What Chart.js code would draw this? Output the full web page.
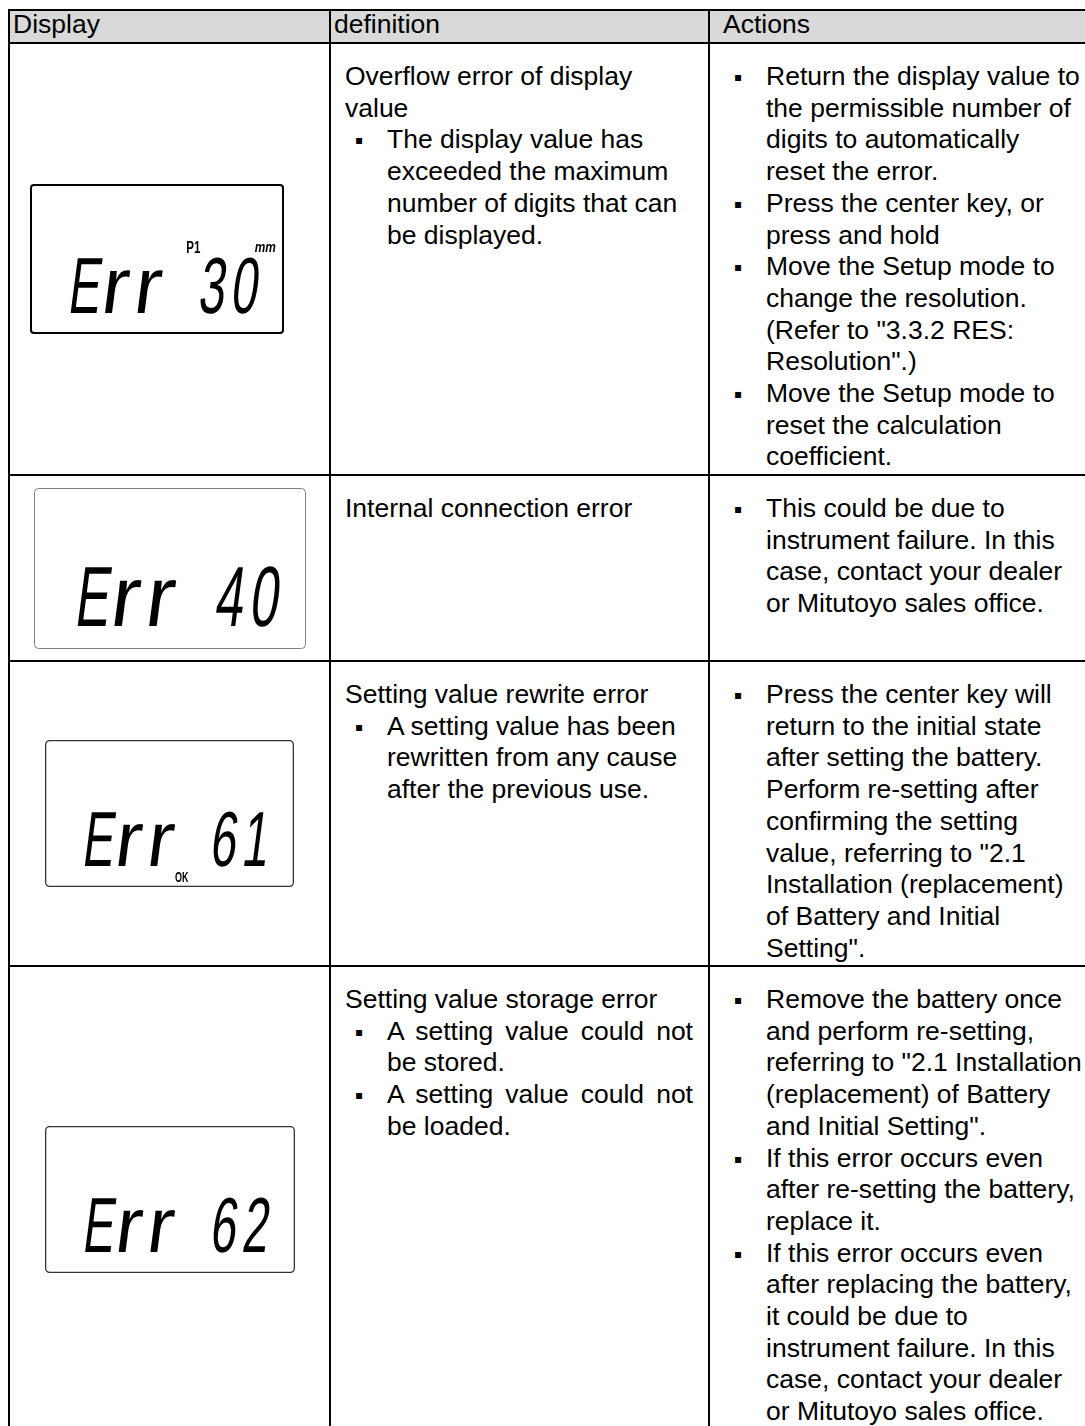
<!DOCTYPE html>
<html>
<head>
<meta charset="utf-8">
<script src="https://cdn.jsdelivr.net/npm/chart.js@4.4.1/dist/chart.umd.min.js"></script>
<style>
  html, body { margin: 0; padding: 0; background: #fff; width: 1085px; height: 1426px; overflow: hidden; }
  table {
    position: absolute; left: 8px; top: 9px;
    border-collapse: separate; border-spacing: 0; table-layout: fixed; width: 1102px;
    border-left: 2px solid #000; border-top: 2px solid #000;
    font-family: "Liberation Sans", Arial, sans-serif; font-size: 26.5px; color: #000;
  }
  th, td { box-sizing: border-box; border-right: 2px solid #000; border-bottom: 2px solid #000; padding: 0; }
  th { height: 33px; background: #d9d9d9; font-weight: normal; text-align: left; line-height: 26px; vertical-align: top; }
  td { vertical-align: top; line-height: 31.7px; padding: 17px 0 0 14px; }
  td.def { padding-right: 15px; }
  td.disp { vertical-align: middle; padding: 0; }
  td.disp canvas { display: block; margin: 0 auto; }
  .item { position: relative; padding-left: 42px; }
  .dot { position: absolute; left: 10px; top: 1px; font-family: "DejaVu Sans", sans-serif; font-size: 12px; }
  .just .item div:not(:last-child) { text-align: justify; text-align-last: justify; }
</style>
</head>
<body>
<table id="tbl">
  <thead><tr id="head"></tr></thead>
  <tbody id="rows"></tbody>
</table>
<script>
// error display table: texts and LCD readouts

// DATA
// ============================================================
const headers = ['Display', 'definition', 'Actions'];
const displayCodes = ['Err 30', 'Err 40', 'Err 61', 'Err 62'];
const displayTags = [['P1', 'mm'], [], ['OK'], []];

const definitions = [
  ['Overflow error of display\nvalue',
   '▪The display value has\nexceeded the maximum\nnumber of digits that can\nbe displayed.'],
  ['Internal connection error'],
  ['Setting value rewrite error',
   '▪A setting value has been\nrewritten from any cause\nafter the previous use.'],
  ['Setting value storage error',
   '▪A setting value could not\nbe stored.',
   '▪A setting value could not\nbe loaded.'],
];

const actions = [
  ['▪Return the display value to\nthe permissible number of\ndigits to automatically\nreset the error.',
   '▪Press the center key, or\npress and hold',
   '▪Move the Setup mode to\nchange the resolution.\n(Refer to "3.3.2 RES:\nResolution".)',
   '▪Move the Setup mode to\nreset the calculation\ncoefficient.'],
  ['▪This could be due to\ninstrument failure. In this\ncase, contact your dealer\nor Mitutoyo sales office.'],
  ['▪Press the center key will\nreturn to the initial state\nafter setting the battery.\nPerform re-setting after\nconfirming the setting\nvalue, referring to "2.1\nInstallation (replacement)\nof Battery and Initial\nSetting".'],
  ['▪Remove the battery once\nand perform re-setting,\nreferring to "2.1 Installation\n(replacement) of Battery\nand Initial Setting".',
   '▪If this error occurs even\nafter re-setting the battery,\nreplace it.',
   '▪If this error occurs even\nafter replacing the battery,\nit could be due to\ninstrument failure. In this\ncase, contact your dealer\nor Mitutoyo sales office.'],
];

// LAYOUT / STYLE
// ============================================================
const headPad = [3, 3, 13];
const colWidths = [321, 379, 402];
const rowHeights = [432, 186, 305, 467];
const justifyDefRows = [3];
const lcdStyle = [
  { w: 254, h: 150, border: 2,   frame: '#000',    radius: 3, shift: -23 },
  { w: 272, h: 161, border: 1,   frame: '#7f7f7f', radius: 4, shift: 0 },
  { w: 249, h: 147, border: 1.3, frame: '#333',    radius: 4, shift: 0 },
  { w: 250, h: 147, border: 1.3, frame: '#333',    radius: 4, shift: 0 },
];
// horizontal squeeze per glyph, so the LCD letters keep an even width
const glyphScale = { E: 0.6, r: 1.0, default: 0.6 };
const tagStyle = {
  P1: { x: 0.615, y: 0.458, font: 'bold 16px "Liberation Sans", Arial', sx: 0.72 },
  mm: { x: 0.885, y: 0.455, font: 'italic bold 14px "Liberation Sans", Arial', sx: 0.85 },
  OK: { x: 0.522, y: 0.965, font: 'bold 15px "Liberation Sans", Arial', sx: 0.6 },
};

// LCD readout plugin
// ============================================================
const lcdPlugin = {
  id: 'lcd',
  afterDraw(chart, args, opts) {
    const ctx = chart.ctx, w = chart.width, h = chart.height;
    ctx.save();
    const b = opts.border / 2;
    ctx.lineWidth = opts.border;
    ctx.strokeStyle = opts.frame;
    ctx.beginPath();
    ctx.roundRect(b, b, w - 2 * b, h - 2 * b, opts.radius);
    ctx.stroke();

    const cap = 0.38 * h, size = cap / 0.716, pitch = 0.217 * h, base = 0.858 * h;
    ctx.fillStyle = '#000';
    ctx.font = `${size}px "Liberation Sans", Arial, sans-serif`;
    ctx.textBaseline = 'alphabetic';
    [...opts.code].forEach((ch, k) => {
      if (ch === ' ') return;
      const sx = glyphScale[ch] || glyphScale.default;
      ctx.setTransform(sx, 0, -0.13, 1, 0.145 * w + k * pitch, base);
      ctx.fillText(ch, 0, 0);
    });
    ctx.setTransform(1, 0, 0, 1, 0, 0);

    opts.tags.forEach(t => {
      const s = tagStyle[t];
      ctx.font = s.font;
      ctx.setTransform(s.sx, 0, 0, 1, s.x * w, s.y * h);
      ctx.fillText(t, 0, 0);
    });
    ctx.restore();
  }
};

// TABLE
// ============================================================
function cellBlocks(blocks) {
  return blocks.map(txt => {
    const bullet = txt.startsWith('▪');
    const lines = (bullet ? txt.slice(1) : txt).split('\n').map(l => `<div>${l}</div>`).join('');
    return bullet
      ? `<div class="item"><span class="dot">▪</span>${lines}</div>`
      : `<div class="para">${lines}</div>`;
  }).join('');
}

const head = document.getElementById('head');
headers.forEach((h, i) => {
  const th = document.createElement('th');
  th.textContent = h;
  th.style.width = colWidths[i] + 'px';
  th.style.paddingLeft = headPad[i] + 'px';
  head.appendChild(th);
});

const tbody = document.getElementById('rows');
displayCodes.forEach((code, r) => {
  const tr = document.createElement('tr');
  tr.style.height = rowHeights[r] + 'px';

  const tdDisp = document.createElement('td');
  tdDisp.className = 'disp';
  const st = lcdStyle[r];
  const cv = document.createElement('canvas');
  cv.width = st.w; cv.height = st.h;
  cv.style.width = st.w + 'px'; cv.style.height = st.h + 'px';
  if (st.shift) cv.style.marginLeft = (321 - 4 - st.w + st.shift) / 2 + 'px';
  cv.setAttribute('aria-label', code);
  tdDisp.appendChild(cv);

  const tdDef = document.createElement('td');
  tdDef.innerHTML = cellBlocks(definitions[r]);
  tdDef.className = 'def' + (justifyDefRows.includes(r) ? ' just' : '');

  const tdAct = document.createElement('td');
  tdAct.innerHTML = cellBlocks(actions[r]);

  tr.append(tdDisp, tdDef, tdAct);
  tbody.appendChild(tr);

  new Chart(cv, {
    type: 'bar',
    data: { labels: [], datasets: [] },
    options: {
      responsive: false, animation: false, events: [],
      layout: { padding: 0 },
      scales: { x: { display: false }, y: { display: false } },
      plugins: {
        legend: { display: false }, tooltip: { enabled: false },
        lcd: { code, tags: displayTags[r], border: st.border, frame: st.frame, radius: st.radius },
      },
    },
    plugins: [lcdPlugin],
  });
});
</script>
</body>
</html>
